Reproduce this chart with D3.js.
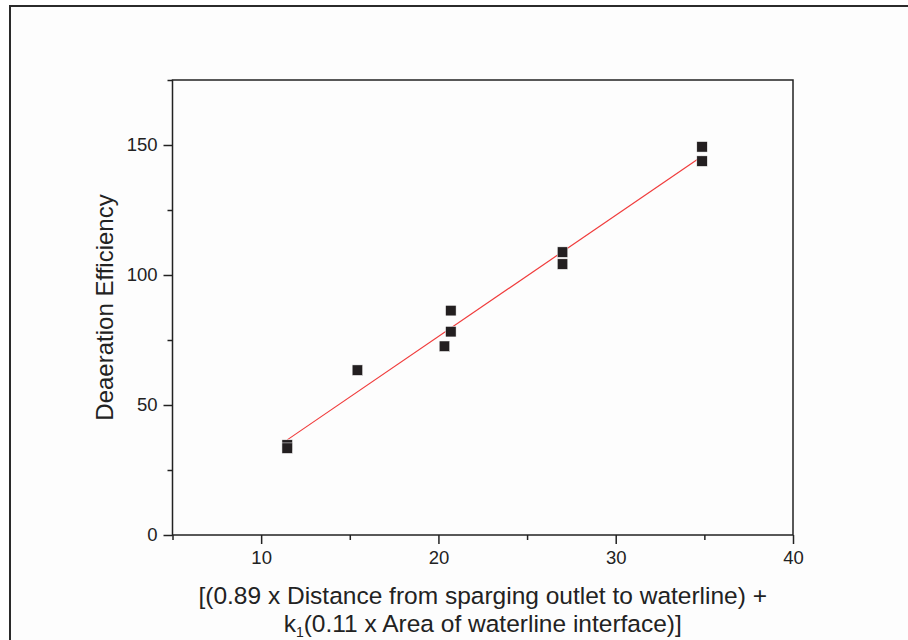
<!DOCTYPE html>
<html>
<head>
<meta charset="utf-8">
<script src="https://cdn.jsdelivr.net/npm/d3@7"></script>
<style>
  body { margin: 0; background: #fff; }
  text { font-family: "Liberation Sans", Arial, sans-serif; fill: #222; }
</style>
</head>
<body>
<div id="chart"></div>
<script>
// data
const xValues = [11.47, 11.47, 15.43, 20.34, 20.70, 20.70, 27.0, 27.0, 34.87, 34.87];
const yValues = [34.6, 33.4, 63.4, 72.6, 78.2, 86.3, 104.2, 108.8, 143.8, 149.3];
const xTicks = [10, 20, 30, 40];
const xMinorTicks = [5, 15, 25, 35];
const yTicks = [0, 50, 100, 150];
const yMinorTicks = [25, 75, 125, 175];

const W = 908, H = 640;
const margin = { top: 80, right: 115, bottom: 105, left: 172.5 };
const width = W - margin.left - margin.right;
const height = H - margin.top - margin.bottom;

const svg = d3.select("#chart").append("svg")
  .attr("width", W)
  .attr("height", H);

// outer frame (right/bottom run off the page)
svg.append("rect")
  .attr("x", 10).attr("y", 6)
  .attr("width", 940).attr("height", 700)
  .attr("fill", "#fdfdfd")
  .attr("stroke", "#2a2a2a")
  .attr("stroke-width", 2);

const g = svg.append("g").attr("transform", `translate(${margin.left},${margin.top})`);

const x = d3.scaleLinear().domain([5, 40]).range([0, width]);
const y = d3.scaleLinear().domain([0, 175]).range([height, 0]);

// axes
const xAxis = g.append("g").attr("transform", `translate(0,${height})`)
  .call(d3.axisBottom(x).tickValues(xTicks).tickSize(9).tickPadding(7).tickFormat(d3.format("d")));
xAxis.append("g")
  .call(d3.axisBottom(x).tickValues(xMinorTicks).tickSize(5).tickFormat(""));

const yAxis = g.append("g")
  .call(d3.axisLeft(y).tickValues(yTicks).tickSize(9).tickPadding(6).tickFormat(d3.format("d")));
yAxis.append("g")
  .call(d3.axisLeft(y).tickValues(yMinorTicks).tickSize(5).tickFormat(""));

g.selectAll(".domain").remove();
g.selectAll(".tick line").attr("stroke", "#222").attr("stroke-width", 1.5);
g.selectAll(".tick text").attr("font-size", "18.5px").style("fill", "#222");

// plot box
g.append("rect")
  .attr("width", width).attr("height", height)
  .attr("fill", "none")
  .attr("stroke", "#222")
  .attr("stroke-width", 1.5);

// linear fit
const points = xValues.map((v, i) => ({ x: v, y: yValues[i] }));
const mx = d3.mean(points, d => d.x), my = d3.mean(points, d => d.y);
const slope = d3.sum(points, d => (d.x - mx) * (d.y - my)) / d3.sum(points, d => (d.x - mx) ** 2);
const intercept = my - slope * mx;
const fitX = d3.extent(xValues);

g.append("line")
  .attr("x1", x(fitX[0])).attr("y1", y(intercept + slope * fitX[0]))
  .attr("x2", x(fitX[1])).attr("y2", y(intercept + slope * fitX[1]))
  .attr("stroke", "#f03c3c")
  .attr("stroke-width", 1.2);

// square markers
const s = 10.5;
g.selectAll("rect.pt")
  .data(points)
  .enter().append("rect")
  .attr("class", "pt")
  .attr("x", d => x(d.x) - s / 2)
  .attr("y", d => y(d.y) - s / 2)
  .attr("width", s).attr("height", s)
  .attr("fill", "#231f20")
  .attr("stroke", "#fff")
  .attr("stroke-width", 0.5);

// axis titles
svg.append("text")
  .attr("transform", `translate(113,${margin.top + height / 2}) rotate(-90)`)
  .attr("text-anchor", "middle")
  .attr("font-size", "24px")
  .text("Deaeration Efficiency");

const xTitle = svg.append("text")
  .attr("text-anchor", "middle")
  .attr("font-size", "24.5px");
xTitle.append("tspan")
  .attr("x", margin.left + width / 2).attr("y", 604)
  .text("[(0.89 x Distance from sparging outlet to waterline) +");
const line2 = xTitle.append("tspan")
  .attr("x", margin.left + width / 2).attr("y", 632)
  .text("k");
line2.append("tspan").attr("font-size", "14px").attr("dy", 5).text("1");
line2.append("tspan").attr("dy", -5).text("(0.11 x Area of waterline interface)]");
</script>
</body>
</html>
